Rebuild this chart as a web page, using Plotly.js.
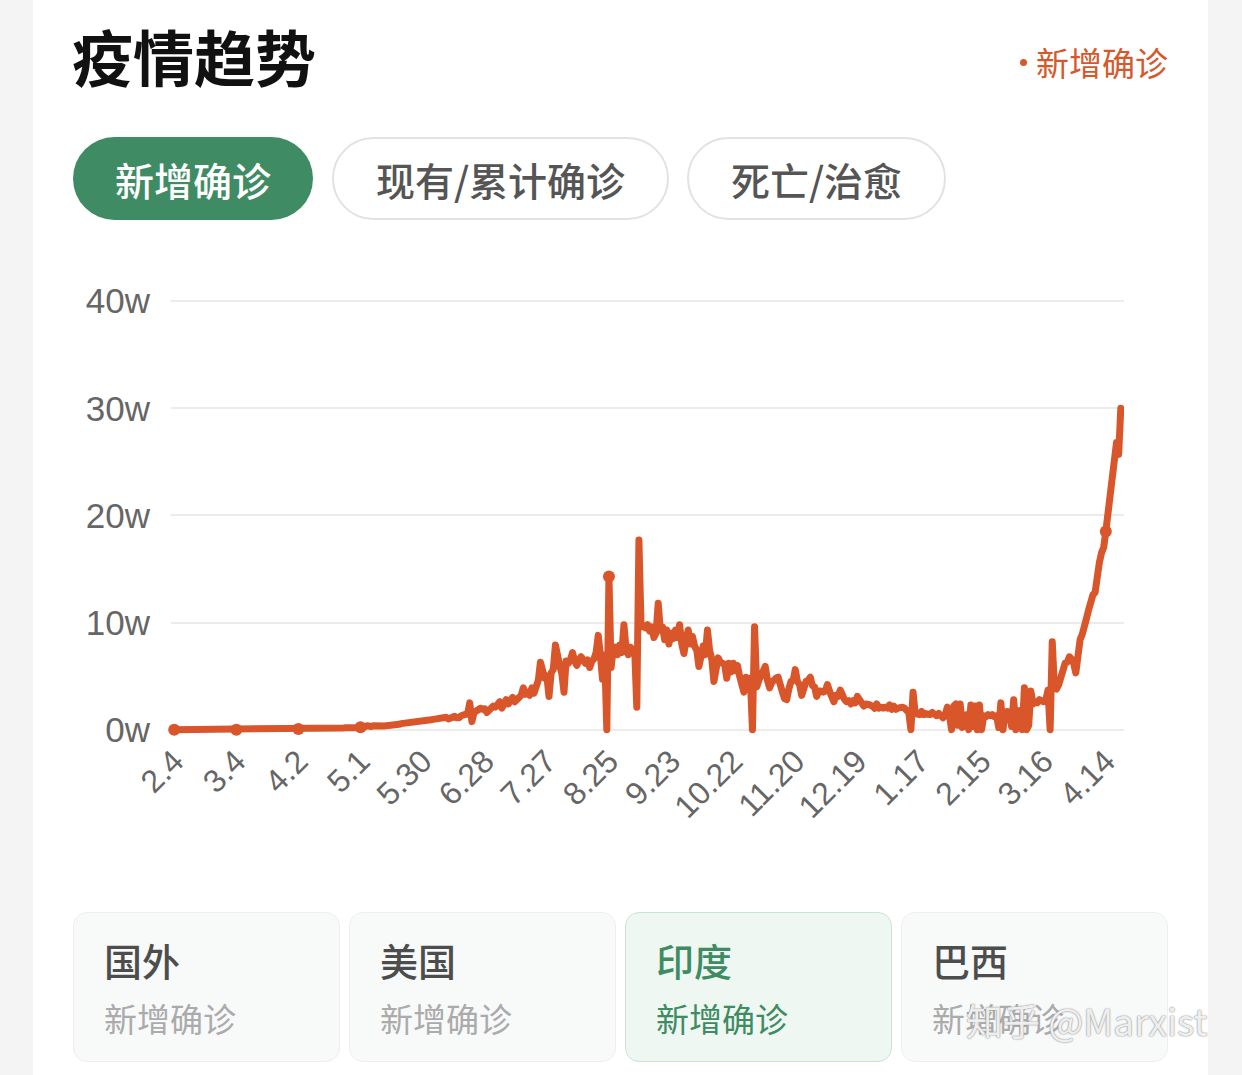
<!DOCTYPE html>
<html>
<head>
<meta charset="utf-8">
<script src="https://cdn.plot.ly/plotly-3.0.1.min.js"></script>
<style>
  html, body { margin:0; padding:0; background:#ffffff; }
  body { width:1242px; height:1075px; position:relative; overflow:hidden; font-family:"Noto Sans CJK SC","Noto Sans",sans-serif; }
  .strip { position:absolute; top:0; height:1075px; background:#f4f4f4; }
  .abs { position:absolute; white-space:nowrap; }
  #chart { position:absolute; left:0; top:0; width:1242px; height:1075px; }
  .js-line { stroke-linejoin: round !important; stroke-linecap: round !important; }
  .pill { position:absolute; box-sizing:border-box; border-radius:42px; height:83px; top:137px;
          display:flex; align-items:center; justify-content:center; font-size:39px; font-weight:500; }
  .card { position:absolute; top:912px; width:267px; height:150px; box-sizing:border-box;
          border-radius:14px; background:#f8f9f9; border:1px solid #eeeeee; }
  .card .t { position:absolute; left:30px; top:19px; font-size:38px; font-weight:500; color:#4d4d4d; line-height:56px; }
  .card .s { position:absolute; left:30px; top:80px; font-size:33px; font-weight:400; color:#ababab; line-height:50px; }
</style>
</head>
<body>
<div class="strip" style="left:0;width:33px;"></div>
<div class="strip" style="left:1208px;width:34px;"></div>

<div id="chart"></div>

<div class="abs" style="left:72px;top:18px;font-size:61px;font-weight:700;color:#111;line-height:76px;">疫情趋势</div>
<div class="abs" style="left:1020px;top:59px;width:7px;height:7px;border-radius:4px;background:#d4592b;"></div>
<div class="abs" style="left:1036px;top:38px;font-size:33px;color:#d4592b;line-height:48px;">新增确诊</div>

<div class="pill" style="left:73px;width:240px;background:#3f8b63;color:#ffffff;">新增确诊</div>
<div class="pill" style="left:332px;width:337px;background:#fff;border:2px solid #e2e2e2;color:#555;">现有/累计确诊</div>
<div class="pill" style="left:687px;width:259px;background:#fff;border:2px solid #e2e2e2;color:#555;">死亡/治愈</div>

<div class="card" style="left:73px;"><div class="t">国外</div><div class="s">新增确诊</div></div>
<div class="card" style="left:349px;"><div class="t">美国</div><div class="s">新增确诊</div></div>
<div class="card" style="left:625px;background:#eef7f2;border-color:#c9e4d5;"><div class="t" style="color:#3f8b63;">印度</div><div class="s" style="color:#3f8b63;">新增确诊</div></div>
<div class="card" style="left:901px;"><div class="t">巴西</div><div class="s">新增确诊</div></div>
<div class="abs" style="left:966px;top:995px;font-size:37px;color:rgba(255,255,255,0.85);line-height:50px;text-shadow:0 0 2px #9a9a9a,0 0 1px #8a8a8a;">知乎 @Marxist</div>

<script>
// Daily new confirmed cases (unit: w = 10,000), India
const startDate = '2020-02-04';
const feb2020 = [0,0,0,0,0,0,0,0,0,0,0,0,0,0,0,0,0,0,0,0,0,0,0,0,0,0];
const mar2020 = [0,0,0,0,0,0,0,0,0,0,0,0,0,0,0,0,0,0,0,0.01,0.01,0.01,0.01,0.01,0.01,0.01,0.01,0.01,0.01,0.02,0.02];
const apr2020 = [0.04,0.05,0.06,0.05,0.07,0.07,0.05,0.05,0.09,0.08,0.09,0.09,0.08,0.11,0.09,0.09,0.09,0.13,0.13,0.14,0.15,0.13,0.16,0.17,0.14,0.2,0.16,0.17,0.19,0.18];
const may2020 = [0.23,0.24,0.26,0.36,0.3,0.29,0.36,0.33,0.32,0.41,0.36,0.35,0.37,0.37,0.4,0.38,0.5,0.45,0.5,0.56,0.58,0.61,0.64,0.67,0.64,0.61,0.66,0.71,0.75,0.83,0.84];
const jun2020 = [0.8,0.85,0.92,0.96,0.98,1.0,1.05,0.95,1.0,1.15,1.0,1.1,1.2,1.25,1.1,1.1,1.3,1.4,1.35,1.5,2.5,0.75,1.6,1.7,1.9,2.0,1.9,1.95,1.6,1.85];
const jul2020 = [2.0,2.2,2.1,2.4,2.6,2.0,2.3,2.8,2.4,2.7,3.0,2.6,2.9,3.0,3.2,3.9,3.3,3.5,3.2,3.9,3.4,4.1,4.6,6.3,5.6,4.8,5.0,3.1,5.3,5.6,7.9];
const aug2020 = [6.6,6.0,5.2,3.5,6.4,6.2,6.5,7.2,6.4,6.0,6.5,6.8,6.5,6.2,6.5,5.8,6.4,6.6,7.2,8.8,6.9,4.7,7.0,0,14.3,5.8,7.5,7.7,7.0,7.9,7.2];
const sep2020 = [9.8,7.5,7.0,7.7,7.2,7.5,2.1,17.7,9.6,9.7,9.5,9.8,9.2,9.6,8.6,9.0,11.8,9.3,9.6,8.4,9.3,8.0,9.0,8.5,9.3,8.6,9.8,8.0,7.1,8.4];
const oct2020 = [9.3,8.0,8.7,7.8,7.4,5.9,7.2,7.8,7.0,9.3,7.4,6.6,4.5,6.3,6.7,6.3,6.2,6.1,4.8,6.2,5.4,6.2,5.5,6.0,5.0,4.4,3.5,4.9,4.6,4.8,0];
const nov2020 = [9.6,4.0,4.6,5.0,5.2,5.9,4.6,3.9,4.4,4.7,4.8,4.9,4.4,3.5,2.9,2.8,3.8,4.5,4.6,5.6,4.5,4.2,3.2,4.3,4.5,4.6,4.9,4.1,4.0,3.1];
const dec2020 = [3.6,3.6,3.5,3.6,4.2,3.6,3.2,2.6,3.2,3.1,3.7,3.0,2.8,2.6,2.7,2.4,2.7,2.5,3.1,2.8,2.6,2.2,2.4,2.4,2.3,2.2,2.0,2.4,2.0,2.1,2.0];
const jan2021 = [2.1,2.0,2.3,1.9,2.2,1.9,2.0,2.1,2.1,2.0,1.7,1.6,0,3.5,1.5,1.5,1.4,1.7,1.4,1.5,1.5,1.4,1.6,1.4,1.3,1.5,1.2,1.1,1.4,2.1,1.3];
const feb2021 = [0,2.2,2.4,0.4,2.4,0.2,1.3,1.4,0,2.3,0.3,2.2,0,2.3,0,1.3,1.2,1.4,1.3,1.4,1.2,1.3,0.2,2.5,0,1.6,1.7,1.6];
const mar2021 = [0.3,2.8,0,1.7,1.8,0,3.9,0,0.4,3.6,2.4,2.6,2.5,2.8,2.6,2.6,2.8,3.7,0,8.2,4.0,3.8,4.2,4.9,5.3,6.2,6.3,6.8,6.6,6.2,5.3];
const apr2021 = [7.2,8.4,8.9,10.0,10.4,11.2,12.1,12.6,12.8,14.5,15.6,16.5,17.0,18.5,20.0,21.7,23.4,24.9,26.8,25.7,30.0];

const tickDates = ['2020-02-04','2020-03-04','2020-04-02','2020-05-01','2020-05-30','2020-06-28','2020-07-27','2020-08-25','2020-09-23','2020-10-22','2020-11-20','2020-12-19','2021-01-17','2021-02-15','2021-03-16','2021-04-14'];
const tickLabels = ['2.4','3.4','4.2','5.1','5.30','6.28','7.27','8.25','9.23','10.22','11.20','12.19','1.17','2.15','3.16','4.14'];
const markerDates = ['2020-02-04','2020-03-04','2020-04-02','2020-05-01','2020-08-25','2021-04-14'];
const yTickVals = [0,10,20,30,40];
const yTickLabels = ['0w','10w','20w','30w','40w'];

const values = [].concat(feb2020,mar2020,apr2020,may2020,jun2020,jul2020,aug2020,sep2020,oct2020,nov2020,dec2020,jan2021,feb2021,mar2021,apr2021);

function fmt(d){ return d.toISOString().slice(0,10); }
const dates = [];
const t0 = new Date(startDate + 'T00:00:00Z');
for (let i = 0; i < values.length; i++) {
  dates.push(fmt(new Date(t0.getTime() + i*86400000)));
}
const markerY = markerDates.map(td => values[dates.indexOf(td)]);

const lineColor = '#d9562b';

const traces = [
  { x: dates, y: values, type: 'scatter', mode: 'lines',
    line: { color: lineColor, width: 7, shape: 'linear' }, hoverinfo: 'skip', showlegend: false },
  { x: markerDates, y: markerY, type: 'scatter', mode: 'markers',
    marker: { color: lineColor, size: 12 }, cliponaxis: false, hoverinfo: 'skip', showlegend: false }
];

const layout = {
  width: 1242, height: 1075,
  margin: { l: 171, r: 118, t: 298, b: 340, pad: 0 },
  paper_bgcolor: 'rgba(0,0,0,0)', plot_bgcolor: 'rgba(0,0,0,0)',
  showlegend: false,
  xaxis: {
    type: 'date',
    range: ['2020-02-02 12:00', '2021-04-22 12:00'],
    tickmode: 'array', tickvals: tickDates, ticktext: tickLabels,
    tickangle: -45, showgrid: false, zeroline: false, showline: false, ticks: '',
    ticklabelstandoff: 0,
    tickfont: { family: 'Liberation Sans, Arial, sans-serif', size: 32, color: '#666666' }
  },
  yaxis: {
    range: [-0.5, 40.3],
    tickmode: 'array', tickvals: yTickVals, ticktext: yTickLabels,
    showgrid: true, gridcolor: '#ececec', gridwidth: 2,
    zeroline: false, showline: false, ticks: '',
    ticklabelstandoff: 20,
    tickfont: { family: 'Liberation Sans, Arial, sans-serif', size: 35, color: '#666666' }
  }
};

Plotly.newPlot('chart', traces, layout, { staticPlot: true, displayModeBar: false });
</script>
</body>
</html>
